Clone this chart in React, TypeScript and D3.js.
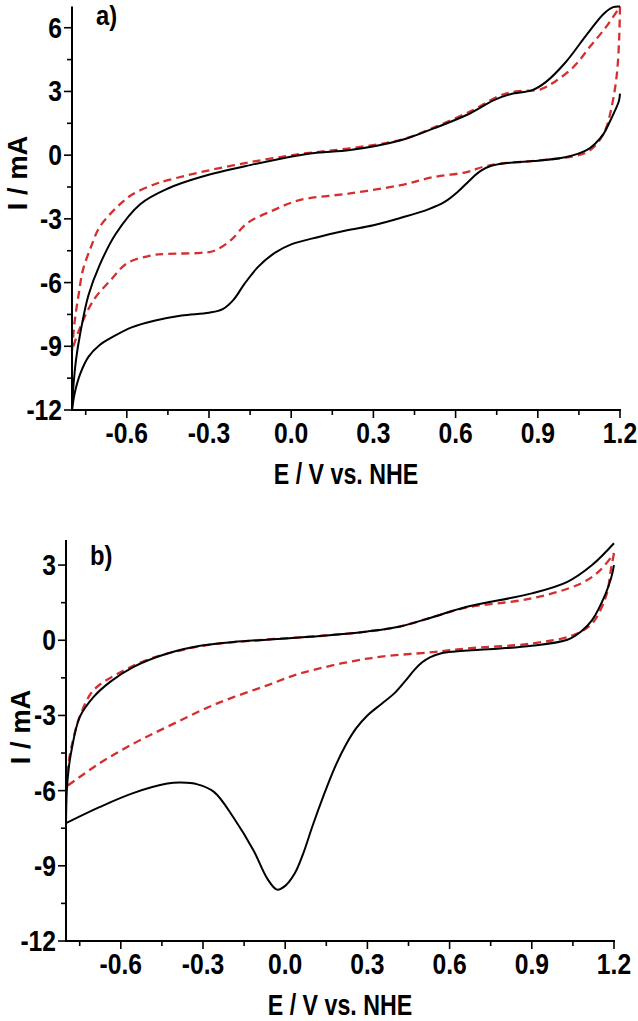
import React from "react";
import * as d3 from "d3";

// ---- Data (E / V vs. NHE, I / mA) ----
// Panel a, solid black: anodic (forward) and cathodic (reverse) branches
const aBlackFwd: [number, number][] = [
  [-0.8, -12], [-0.795, -10.9], [-0.785, -9.6], [-0.77, -8.4], [-0.74, -6.6], [-0.7, -5.2], [-0.64, -3.7],
  [-0.55, -2.3], [-0.45, -1.57], [-0.33, -1.03], [-0.15, -0.47], [0.03, 0.0], [0.1, 0.12], [0.215, 0.24],
  [0.4, 0.7], [0.52, 1.26], [0.64, 1.89], [0.74, 2.59], [0.8, 2.87], [0.88, 3.06], [0.93, 3.45], [1.0, 4.35],
  [1.08, 5.7], [1.14, 6.65], [1.175, 6.97], [1.2, 7.0],
];
const aBlackRev: [number, number][] = [
  [1.2, 2.9], [1.196, 2.55], [1.18, 2.05], [1.16, 1.5], [1.14, 1.0], [1.11, 0.55], [1.08, 0.25], [1.0, -0.1],
  [0.88, -0.28], [0.78, -0.38], [0.73, -0.5], [0.69, -0.75], [0.65, -1.2], [0.61, -1.7], [0.56, -2.2],
  [0.5, -2.55], [0.4, -2.95], [0.3, -3.3], [0.2, -3.55], [0.1, -3.85], [0.0, -4.2], [-0.06, -4.6],
  [-0.12, -5.25], [-0.17, -6.05], [-0.21, -6.8], [-0.25, -7.25], [-0.3, -7.42], [-0.4, -7.55], [-0.5, -7.8],
  [-0.58, -8.1], [-0.65, -8.55], [-0.7, -8.95], [-0.74, -9.5], [-0.77, -10.3], [-0.79, -11.2], [-0.8, -12],
];
// Panel a, dashed red
const aRedFwd: [number, number][] = [
  [-0.8, -9.2], [-0.79, -7.8], [-0.775, -6.5], [-0.76, -5.4], [-0.73, -4.3], [-0.7, -3.4], [-0.64, -2.5],
  [-0.58, -1.85], [-0.5, -1.38], [-0.45, -1.18], [-0.33, -0.8], [-0.15, -0.33], [0.03, 0.05], [0.2, 0.3],
  [0.4, 0.72], [0.52, 1.3], [0.66, 2.1], [0.76, 2.8], [0.82, 3.0], [0.91, 3.1], [0.955, 3.4], [1.03, 4.15],
  [1.09, 5.1], [1.15, 6.05], [1.195, 6.9], [1.2, 7.0],
];
const aRedRev: [number, number][] = [
  [1.2, 7.0], [1.197, 5.5], [1.19, 4.0], [1.18, 3.0], [1.165, 2.0], [1.15, 1.3], [1.12, 0.6], [1.08, 0.15],
  [1.03, -0.05], [0.88, -0.28], [0.76, -0.4], [0.7, -0.55], [0.64, -0.8], [0.52, -1.03], [0.4, -1.41],
  [0.215, -1.8], [0.03, -2.12], [-0.066, -2.6], [-0.16, -3.2], [-0.22, -4.0], [-0.28, -4.5], [-0.33, -4.6],
  [-0.45, -4.65], [-0.51, -4.72], [-0.6, -5.1], [-0.66, -5.9], [-0.72, -6.8], [-0.77, -8.1], [-0.8, -9.2],
];
// Panel b, solid black
const bBlackFwd: [number, number][] = [
  [-0.8, -7.3], [-0.797, -6.0], [-0.79, -5.1], [-0.78, -4.4], [-0.75, -3.07], [-0.7, -2.27], [-0.64, -1.67],
  [-0.555, -1.07], [-0.43, -0.53], [-0.31, -0.22], [-0.19, -0.07], [0.0, 0.07], [0.127, 0.17], [0.3, 0.35],
  [0.42, 0.55], [0.54, 0.93], [0.66, 1.33], [0.9, 1.87], [1.03, 2.33], [1.12, 3.0], [1.2, 3.87],
];
const bBlackRev: [number, number][] = [
  [1.2, 3.0], [1.19, 2.5], [1.17, 1.87], [1.12, 0.8], [1.08, 0.35], [1.03, 0.02], [0.9, -0.22], [0.785, -0.33],
  [0.68, -0.4], [0.62, -0.45], [0.57, -0.52], [0.53, -0.67], [0.5, -0.88], [0.47, -1.2], [0.44, -1.6],
  [0.4, -2.1], [0.35, -2.55], [0.3, -3.0], [0.26, -3.5], [0.22, -4.2], [0.18, -5.1], [0.14, -6.2], [0.1, -7.4],
  [0.066, -8.5], [0.035, -9.3], [0.0, -9.8], [-0.03, -9.95], [-0.066, -9.5], [-0.115, -8.4], [-0.19, -7.05],
  [-0.26, -6.05], [-0.32, -5.75], [-0.38, -5.68], [-0.43, -5.72], [-0.555, -6.1], [-0.676, -6.65], [-0.8, -7.3],
];
// Panel b, dashed red
const bRedFwd: [number, number][] = [
  [-0.8, -5.85], [-0.792, -5.0], [-0.78, -4.25], [-0.75, -3.05], [-0.7, -2.0], [-0.61, -1.33], [-0.49, -0.73],
  [-0.3, -0.22], [-0.1, 0.0], [0.127, 0.17], [0.3, 0.35], [0.42, 0.55], [0.54, 0.93], [0.66, 1.3], [0.9, 1.67],
  [1.08, 2.27], [1.15, 2.8], [1.2, 3.47],
];
const bRedRev: [number, number][] = [
  [1.2, 3.47], [1.19, 2.9], [1.17, 1.73], [1.12, 0.67], [1.05, 0.2], [0.9, -0.13], [0.66, -0.33], [0.54, -0.47],
  [0.3, -0.73], [0.054, -1.33], [-0.066, -1.8], [-0.25, -2.53], [-0.43, -3.45], [-0.555, -4.13], [-0.676, -4.9],
  [-0.8, -5.85],
];

const xTicks = [-0.6, -0.3, 0.0, 0.3, 0.6, 0.9, 1.2];
const xMinor = [-0.75, -0.45, -0.15, 0.15, 0.45, 0.75, 1.05];
const aYTicks = [6, 3, 0, -3, -6, -9, -12];
const aYMinor = [4.5, 1.5, -1.5, -4.5, -7.5, -10.5];
const bYTicks = [3, 0, -3, -6, -9, -12];
const bYMinor = [1.5, -1.5, -4.5, -7.5, -10.5];

const FONT = "'Liberation Sans', Arial, sans-serif";
const RED = "#d42f2f";

type Pt = [number, number];
type PanelProps = {
  left: number; right: number; top: number; bottom: number;
  yDomain: [number, number]; yTicks: number[]; yMinor: number[];
  black: Pt[][]; red: Pt[][];
  tag: string; tagX: number; tagY: number; yTitleX: number; yTitleY: number;
};

function T(props: { x: number; y: number; size: number; sx: number; anchor?: string; children: React.ReactNode; rotate?: boolean }) {
  const tr = props.rotate
    ? `translate(${props.x},${props.y}) rotate(-90) scale(${props.sx},1)`
    : `translate(${props.x},${props.y}) scale(${props.sx},1)`;
  return (
    <text transform={tr} textAnchor={props.anchor || "start"} fontFamily={FONT} fontWeight="bold" fontSize={props.size}>
      {props.children}
    </text>
  );
}

function Panel(p: PanelProps) {
  const x = d3.scaleLinear().domain([-0.8, 1.2]).range([p.left, p.right]);
  const y = d3.scaleLinear().domain(p.yDomain).range([p.bottom, p.top]);
  const line = d3.line<Pt>().x(d => x(d[0])).y(d => y(d[1])).curve(d3.curveCatmullRom.alpha(0.5));
  const fmtX = (v: number) => v.toFixed(1);
  return (
    <g>
      {p.red.map((s, i) => (
        <path key={"r" + i} d={line(s) || ""} fill="none" stroke={RED} strokeWidth={2.3} strokeDasharray="8,5" />
      ))}
      {p.black.map((s, i) => (
        <path key={"b" + i} d={line(s) || ""} fill="none" stroke="#000" strokeWidth={2} />
      ))}
      <line x1={p.left} x2={p.left} y1={p.top} y2={p.bottom + 1} stroke="#000" strokeWidth={2} />
      <line x1={p.left - 1} x2={p.right + 1} y1={p.bottom} y2={p.bottom} stroke="#000" strokeWidth={2} />
      {p.yTicks.map(t => (
        <g key={"y" + t}>
          <line x1={p.left - 8} x2={p.left} y1={y(t)} y2={y(t)} stroke="#000" strokeWidth={1.6} />
          <T x={p.left - 10} y={y(t) + 10} size={29} sx={0.85} anchor="end">{t}</T>
        </g>
      ))}
      {p.yMinor.map(t => (
        <line key={"ym" + t} x1={p.left - 5} x2={p.left} y1={y(t)} y2={y(t)} stroke="#000" strokeWidth={1.6} />
      ))}
      {xTicks.map(t => (
        <g key={"x" + t}>
          <line x1={x(t)} x2={x(t)} y1={p.bottom} y2={p.bottom + 8} stroke="#000" strokeWidth={1.6} />
          <T x={x(t)} y={p.bottom + 33} size={29} sx={0.85} anchor="middle">{fmtX(t)}</T>
        </g>
      ))}
      {xMinor.map(t => (
        <line key={"xm" + t} x1={x(t)} x2={x(t)} y1={p.bottom} y2={p.bottom + 5} stroke="#000" strokeWidth={1.6} />
      ))}
      <T x={(p.left + p.right) / 2} y={p.bottom + 74} size={29} sx={0.8} anchor="middle">E / V vs. NHE</T>
      <T x={p.yTitleX} y={p.yTitleY} size={28} sx={0.98} anchor="middle" rotate>I / mA</T>
      <T x={p.tagX} y={p.tagY} size={28} sx={0.85}>{p.tag}</T>
    </g>
  );
}

export default function App() {
  return (
    <svg width={638} height={1021} style={{ position: "absolute", left: 0, top: 0, background: "#fff" }}>
      <rect width={638} height={1021} fill="#fff" />
      <Panel left={72} right={620} top={6.5} bottom={410} yDomain={[-12, 7]} yTicks={aYTicks} yMinor={aYMinor}
        black={[aBlackFwd, aBlackRev]} red={[aRedFwd, aRedRev]} tag="a)" tagX={96} tagY={25} yTitleX={27} yTitleY={173} />
      <Panel left={66} right={614} top={540} bottom={941} yDomain={[-12, 4]} yTicks={bYTicks} yMinor={bYMinor}
        black={[bBlackFwd, bBlackRev]} red={[bRedFwd, bRedRev]} tag="b)" tagX={90} tagY={565} yTitleX={30} yTitleY={727} />
    </svg>
  );
}
